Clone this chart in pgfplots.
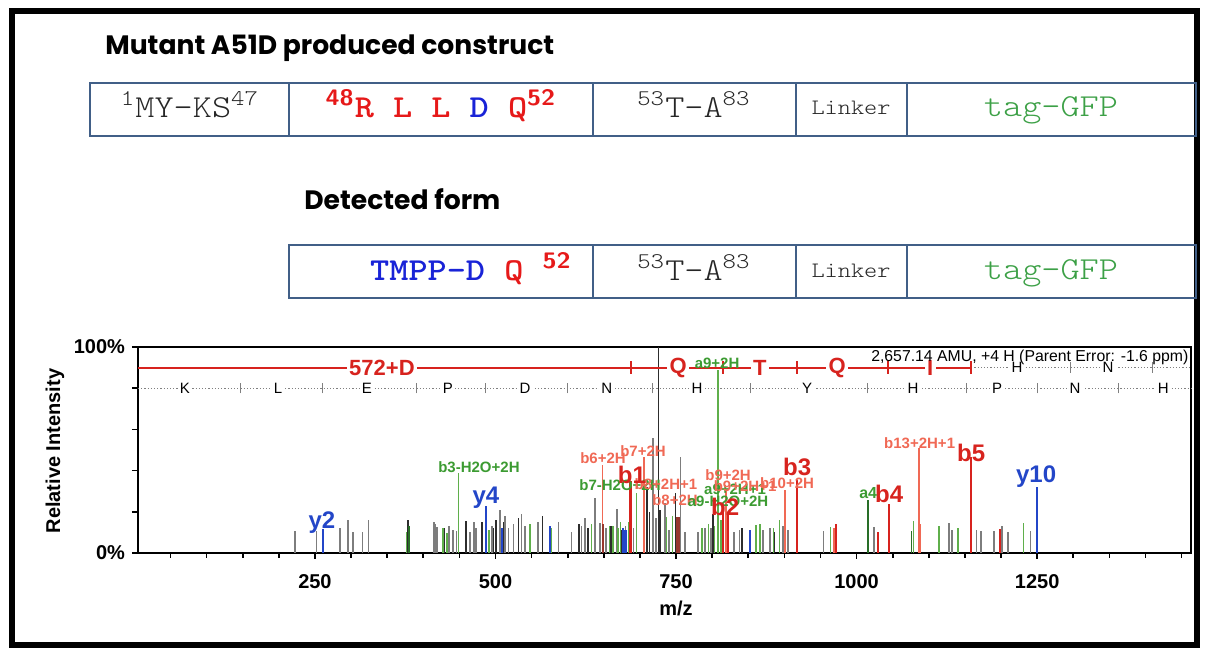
\documentclass[border=0pt]{standalone}
\usepackage{fontspec}
\setmainfont{Liberation Sans}
\newfontfamily\titlefont{Poppins}
\usepackage{graphicx}
\usepackage{pgfplots}
\pgfplotsset{compat=1.18}

\definecolor{boxblue}{RGB}{65,95,135}
\definecolor{seqred}{RGB}{230,25,25}
\definecolor{seqblue}{RGB}{25,35,215}
\definecolor{gfpgreen}{RGB}{60,160,70}
\definecolor{pkgray}{RGB}{125,125,125}
\definecolor{pkdark}{RGB}{45,45,45}
\definecolor{pkgreen}{RGB}{95,175,75}
\definecolor{pkdkgreen}{RGB}{40,110,40}
\definecolor{pkred}{RGB}{215,35,30}
\definecolor{pksalmon}{RGB}{240,105,85}
\definecolor{pkbrown}{RGB}{150,55,45}
\definecolor{pkblue}{RGB}{35,70,200}
\definecolor{lbgreen}{RGB}{60,155,50}

% courier-like: light LM typewriter, stretched to courier widths
\newcommand\cw[1]{\scalebox{1.14}[1]{#1}}
\newcommand\lt{\ttfamily\fontseries{l}\selectfont}

\begin{document}
\begin{tikzpicture}[x=0.5pt,y=0.5pt,
  big/.style={font=\fontsize{12}{12}\selectfont\bfseries, inner sep=0pt},
  small/.style={font=\fontsize{7.5}{7.5}\selectfont\bfseries, inner sep=0pt},
  seq/.style={font=\fontsize{7.5}{7.5}\selectfont, fill=white, inner sep=1.2pt},
  rseq/.style={font=\fontsize{11}{11}\selectfont\bfseries, text=pkred, fill=white, inner sep=1.2pt}]
\useasboundingbox (0,0) rectangle (1207,648);
\draw[line width=3pt] (12,3) rectangle (1197,637);

% construct diagram
\node[anchor=base west, font=\titlefont\bfseries\fontsize{13.3}{14}\selectfont, inner sep=0pt]
  at (105,593) {Mutant A51D produced construct};
\node[anchor=base west, font=\titlefont\bfseries\fontsize{13.3}{14}\selectfont, inner sep=0pt]
  at (304,438) {Detected form};

\draw[boxblue, line width=1.2pt] (90,512) rectangle (1196,565);
\foreach \xx in {289,593,796,907} \draw[boxblue, line width=1.2pt] (\xx,512) -- (\xx,565);
\draw[boxblue, line width=1.2pt] (289,350) rectangle (1196,403);
\foreach \xx in {593,796,907} \draw[boxblue, line width=1.2pt] (\xx,350) -- (\xx,403);

\begin{scope}[every node/.style={anchor=base, inner sep=0pt, font=\fontsize{16}{16}\selectfont}]
\node[text=black!85] at (190,530) {\cw{\lt\textsuperscript{1}MY-KS\textsuperscript{47}}};
\node at (441,530) {\cw{\ttfamily\bfseries\textcolor{seqred}{\textsf{\textsuperscript{48}}R L L }\textcolor{seqblue}{D }\textcolor{seqred}{Q\textsf{\textsuperscript{52}}}}};
\node[text=black!85] at (694,530) {\cw{\lt\textsuperscript{53}T-A\textsuperscript{83}}};
\node[text=black!85, font=\fontsize{11}{11}\selectfont] at (851,533) {\cw{\lt Linker}};
\node[text=gfpgreen] at (1051,531) {\cw{\lt tag-GFP}};
\node at (471,367) {\cw{\ttfamily\bfseries\textcolor{seqblue}{TMPP-D }\textcolor{seqred}{Q \textsf{\textsuperscript{52}}}}};
\node[text=black!85] at (694,367) {\cw{\lt\textsuperscript{53}T-A\textsuperscript{83}}};
\node[text=black!85, font=\fontsize{11}{11}\selectfont] at (851,370) {\cw{\lt Linker}};
\node[text=gfpgreen] at (1051,368) {\cw{\lt tag-GFP}};
\end{scope}

\node[rotate=90, font=\fontsize{10}{10}\selectfont\bfseries] at (55,197) {Relative Intensity};
\node[font=\fontsize{10}{10}\selectfont\bfseries] at (676,40) {m/z};

\begin{axis}[
  at={(69pt,47.5pt)}, anchor=south west,
  scale only axis, width=526.5pt, height=103pt,
  xmin=5, xmax=1463, ymin=0, ymax=100,
  axis line style={line width=1pt},
  tick align=outside, xtick pos=bottom, ytick pos=left,
  xtick={250,500,750,1000,1250},
  xticklabels={250,500,750,1000,1250},
  minor xtick={50,100,...,1450},
  ytick={0,20,40,60,80,100},
  yticklabels={0\%,,,,,100\%},
  major tick length=3pt, minor tick length=2.5pt,
  tick style={black, line width=0.8pt},
  tick label style={font=\fontsize{10}{10}\selectfont\bfseries},
  xticklabel style={yshift=-4pt},
  clip=false,
]
% peaks
\addplot[ycomb, mark=none, pkgray, line width=0.8pt] coordinates {
 (222,10.7)(252,10.7)(285,12)(296,16)(303,10)(316,10)(324,16)(415,15)(417,14)(419,12.5)
 (436,13)(441,11)(446,10.7)(465,10.3)(470,15)(473,12)(495,13)(506,21)(513,18)(518,12)
 (525,14)(536,19)(541,13)(559,15)(587,15)(605,10)(619,13)(624,17)(638,26.5)(645,14.5)
 (653,12)(668,21.3)(680,13)(691,12)(718,56)(722,17)(735,24.4)(740,11)(756,46.4)(762,10)
 (780,10)(790,12)(798,12)(830,10)(838,11)(870,11)(880,12)(898,13)(905,11)(954,10.5)
 (969,10)(1024,12.5)(1128,14.5)(1132,11)(1166,11)(1172,10.5)(1190,10.5)(1201,13)(1210,10)(1241,10.5)};
\addplot[ycomb, mark=none, pkdark, line width=0.8pt] coordinates {
 (379,16)(429,12)(459,15.5)(481,15)(497,12)(501,16)(511,15)(532,17)(565,18)(616,14)
 (628,12)(660,13)(674,11)(710,32)(713,20)(728,21)(745,10)(749,29)(801,19)(841,12)(886,10)};
\addplot[ycomb, mark=none, pkgreen, line width=0.8pt] coordinates {
 (377,10)(427,12.3)(433,9.7)(449,38.8)(491,11)(548,14)(577,12)(633,14)(658,13)(663,13)
 (670,12)(673,15)(684,15)(695,29)(737,17.6)(745,18)(786,12)(795,14)(803,13)(808,89)
 (812,16)(861,13.6)(866,14)(885,12)(893,16)(964,12.5)(1079,15.5)(1114,13)(1140,12)(1231,14.5)};
\addplot[ycomb, mark=none, pkdkgreen, line width=0.8pt] coordinates {
 (380,13)(1016,25.7)(1076,10.5)};
\addplot[ycomb, mark=none, pksalmon, line width=0.8pt] coordinates {
 (648,42.7)(706,46.7)(819,30)(901,30.4)(969,12)(1086,51)(1088,14)};
\addplot[ycomb, mark=none, pkbrown, line width=0.8pt] coordinates {
 (649,14)(751,17.6)(753,17.6)(755,17.6)};
\addplot[ycomb, mark=none, pkred, line width=1.1pt] coordinates {
 (687,35)(815,21.3)(822,18.5)(917,35.4)(972,14)(1030,10)(1045,23.6)(1158,46.5)(1199,11.5)};
\addplot[ycomb, mark=none, pkblue, line width=1.1pt] coordinates {
 (261,11.5)(487,22.6)(509,12)(575,13)(677,12)(680,11)(852,11)(1250,32)};
% precursor marker
\draw[pkdark, line width=0.5pt] (axis cs:725,0) -- (axis cs:725,100);

% sequence ladders
\draw[gray, densely dotted, line width=0.6pt] (axis cs:5,80) -- (axis cs:1463,80);
\pgfplotsinvokeforeach{147.5,261,390,485.5,600,716.8,852.5,1014.5,1151.7,1250,1362}{
  \draw[gray, line width=0.5pt] (axis cs:#1,77.5) -- (axis cs:#1,82.5);}
\node[seq] at (axis cs:70,80) {K};
\node[seq] at (axis cs:198.8,80) {L};
\node[seq] at (axis cs:322,80) {E};
\node[seq] at (axis cs:434,80) {P};
\node[seq] at (axis cs:541,80) {D};
\node[seq] at (axis cs:654,80) {N};
\node[seq] at (axis cs:779,80) {H};
\node[seq] at (axis cs:931.4,80) {Y};
\node[seq] at (axis cs:1078,80) {H};
\node[seq] at (axis cs:1194.6,80) {P};
\node[seq] at (axis cs:1302.6,80) {N};
\node[seq] at (axis cs:1424.5,80) {H};

\draw[gray, densely dotted, line width=0.6pt] (axis cs:1158.6,90) -- (axis cs:1463,90);
\pgfplotsinvokeforeach{1295.7,1409.3}{
  \draw[gray, line width=0.5pt] (axis cs:#1,87.5) -- (axis cs:#1,92.5);}
\node[seq] at (axis cs:1222,90) {H};
\node[seq] at (axis cs:1348,90) {N};

\draw[pkred, line width=1pt] (axis cs:5,90) -- (axis cs:1158.6,90);
\pgfplotsinvokeforeach{687.7,815,917.6,1043.6,1158.6}{
  \draw[pkred, line width=0.8pt] (axis cs:#1,87) -- (axis cs:#1,93);}
\node[rseq] at (axis cs:342.8,90) {572+D};
\node[rseq] at (axis cs:752.8,90) {Q};
\node[rseq] at (axis cs:866,90) {T};
\node[rseq] at (axis cs:973,90) {Q};
\node[rseq] at (axis cs:1101.8,90) {I};

\node[anchor=east, font=\fontsize{7.9}{7.9}\selectfont, inner sep=0pt] at (axis cs:1460,95)
  {2,657.14 AMU, +4 H (Parent Error: -1.6 ppm)};

% peak labels
\node[big, pkblue] at (axis cs:259.7,14.6) {y2};
\node[big, pkblue] at (axis cs:486.8,27) {y4};
\node[big, pkblue] at (axis cs:1248.6,37) {y10};
\node[small, lbgreen] at (axis cs:477.1,41.7) {b3-H2O+2H};
\node[small, lbgreen] at (axis cs:806.8,92) {a9+2H};
\node[small, pksalmon] at (axis cs:648.9,46) {b6+2H};
\node[small, pksalmon] at (axis cs:704.3,49.5) {b7+2H};
\node[small, lbgreen] at (axis cs:672.4,33) {b7-H2O+2H};
\node[small, pksalmon] at (axis cs:736,33.5) {b8+2H+1};
\node[small, pksalmon] at (axis cs:822,37.9) {b9+2H};
\node[small, lbgreen] at (axis cs:831.7,31) {a9+2H+1};
\node[small, pksalmon] at (axis cs:845.6,32.5) {b9+2H+1};
\node[small, pksalmon] at (axis cs:748.6,25.7) {b8+2H};
\node[small, lbgreen] at (axis cs:822,25) {a9-H2O+2H};
\node[small, pksalmon] at (axis cs:903.7,34) {b10+2H};
\node[small, pksalmon] at (axis cs:1087.3,53.4) {b13+2H+1};
\node[big, pkred] at (axis cs:689,38) {b1};
\node[big, pkred] at (axis cs:818,22.6) {b2};
\node[big, pkred] at (axis cs:917.6,42) {b3};
\node[big, pkred] at (axis cs:1045,28.6) {b4};
\node[big, pkred] at (axis cs:1158.6,48.5) {b5};
\node[font=\fontsize{8}{8}\selectfont\bfseries, inner sep=0pt, lbgreen] at (axis cs:1016,29) {a4};
\end{axis}
\end{tikzpicture}
\end{document}
